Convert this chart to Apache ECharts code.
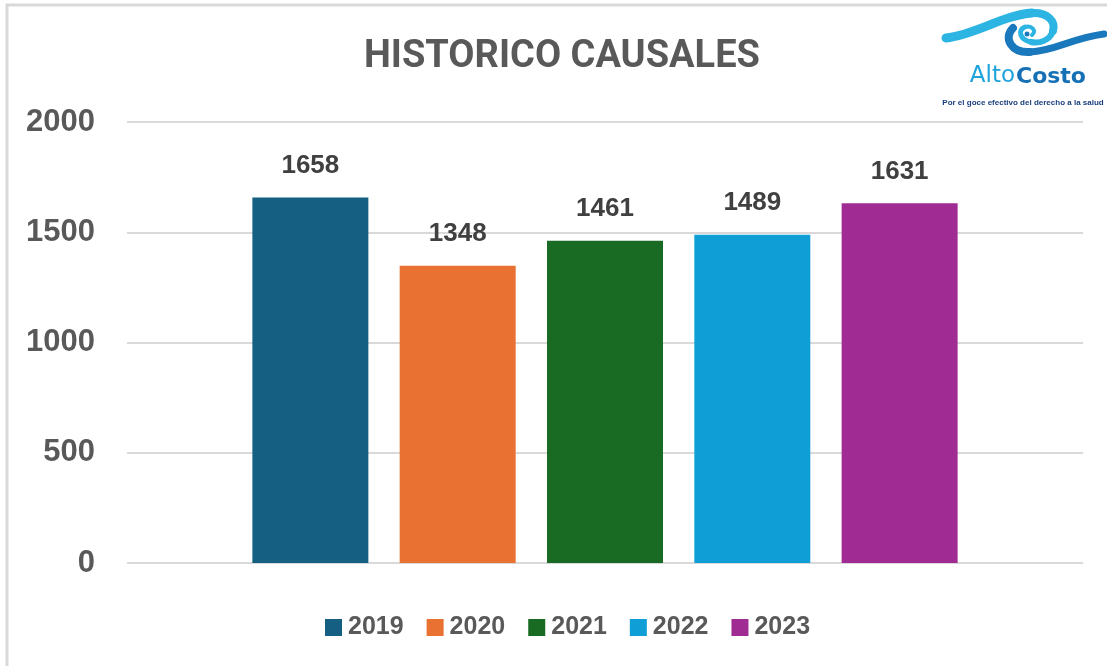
<!DOCTYPE html>
<html>
<head>
<meta charset="utf-8">
<script src="https://cdn.jsdelivr.net/npm/echarts@6/dist/echarts.min.js"></script>
<style>
html,body{margin:0;padding:0;background:#fff;}
#chart{width:1107px;height:666px;}
</style>
</head>
<body>
<div id="chart"></div>
<script>
const years = ['2019', '2020', '2021', '2022', '2023'];
const values = [1658, 1348, 1461, 1489, 1631];
const yTicks = [0, 500, 1000, 1500, 2000];
const palette = ['#156082', '#E97132', '#196B24', '#0F9ED5', '#A02B93'];
const titleText = 'HISTORICO CAUSALES';
const logoWords = ['Alto', 'Costo'];
const logoTagline = 'Por el goce efectivo del derecho a la salud';

const chart = echarts.init(document.getElementById('chart'), null, {renderer: 'canvas'});

const series = years.map((y, i) => ({
  name: y,
  type: 'bar',
  data: [values[i]],
  barWidth: 116,
  barGap: '27%',
  itemStyle: {color: palette[i]},
  label: {
    show: true,
    position: 'top',
    distance: 19,
    fontFamily: '"Liberation Sans Narrow", "Arial Narrow", "Liberation Sans", sans-serif',
    fontWeight: 'bold',
    fontSize: 26,
    color: '#404040'
  }
}));

function bez(p, color, w) {
  return {
    type: 'bezierCurve',
    shape: {x1: p[0], y1: p[1], cpx1: p[2], cpy1: p[3], cpx2: p[4], cpy2: p[5], x2: p[6], y2: p[7]},
    style: {fill: null, stroke: color, lineWidth: w, lineCap: 'round'}
  };
}

const LIGHT = '#2cb5e3', DARK = '#1a78bd';

const option = {
  animation: false,
  backgroundColor: '#ffffff',
  color: palette,
  title: {
    text: titleText,
    left: 359,
    top: 33,
    textStyle: {
      fontFamily: 'Roboto, "Liberation Sans", sans-serif',
      fontWeight: 'bold',
      fontSize: 38,
      color: '#595959'
    }
  },
  legend: {
    data: years,
    left: 320,
    top: 610,
    icon: 'rect',
    itemWidth: 17,
    itemHeight: 17,
    itemGap: 23,
    textStyle: {
      fontFamily: '"Liberation Sans", Arial, sans-serif',
      fontWeight: 'bold',
      fontSize: 25,
      color: '#595959',
      padding: [0, 0, 0, 1]
    }
  },
  grid: {left: 127, right: 24, top: 122, bottom: 103, containLabel: false},
  xAxis: {
    type: 'category',
    data: [''],
    axisLine: {show: false},
    axisTick: {show: false},
    axisLabel: {show: false}
  },
  yAxis: {
    type: 'value',
    min: yTicks[0],
    max: yTicks[yTicks.length - 1],
    interval: yTicks[1] - yTicks[0],
    axisLine: {show: false},
    axisTick: {show: false},
    splitLine: {lineStyle: {color: '#d9d9d9', width: 2}},
    axisLabel: {
      margin: 32,
      formatter: v => String(v),
      fontFamily: '"Liberation Sans", Arial, sans-serif',
      fontWeight: 'bold',
      fontSize: 31,
      color: '#595959'
    }
  },
  graphic: [
    {
      type: 'rect',
      z: 100,
      shape: {x: 7, y: 5, width: 1300, height: 800},
      style: {fill: null, stroke: '#d9d9d9', lineWidth: 3}
    },
    {
      type: 'group',
      z: 100,
      children: [
        // light upper wave
        bez([946, 38, 975, 35, 1003, 15, 1032, 13], LIGHT, 9),
        bez([1032, 13, 1047, 12, 1056, 21, 1053, 31], LIGHT, 8),
        bez([1053, 31, 1050, 40, 1040, 44, 1031, 42], LIGHT, 6),
        bez([1031, 42, 1020, 40, 1017, 30, 1025, 27], LIGHT, 5),
        bez([1025, 27, 1032, 25, 1037, 31, 1032, 35], LIGHT, 4),
        // dark lower wave
        bez([1013, 28, 1003, 38, 1011, 53, 1030, 52], DARK, 8),
        bez([1030, 52, 1055, 51, 1072, 38, 1104, 34], DARK, 7),
        {
          type: 'circle',
          shape: {cx: 1027, cy: 34, r: 2.5},
          style: {fill: DARK}
        },
        {
          type: 'text',
          x: 1015, y: 88,
          style: {
            text: logoWords[0],
            font: 'normal 23px "DejaVu Sans", sans-serif',
            fill: '#1ea3db',
            textAlign: 'right', textVerticalAlign: 'bottom'
          }
        },
        {
          type: 'text',
          x: 1016, y: 88,
          style: {
            text: logoWords[1],
            font: 'bold 22px "DejaVu Sans", sans-serif',
            fill: '#1670b5',
            textAlign: 'left', textVerticalAlign: 'bottom'
          }
        },
        {
          type: 'text',
          x: 1023, y: 103,
          style: {
            text: logoTagline,
            font: 'bold 8px "Liberation Sans", Arial, sans-serif',
            fill: '#1b3f7e',
            textAlign: 'center', textVerticalAlign: 'middle'
          }
        }
      ]
    }
  ],
  series: series
};

chart.setOption(option);
</script>
</body>
</html>
